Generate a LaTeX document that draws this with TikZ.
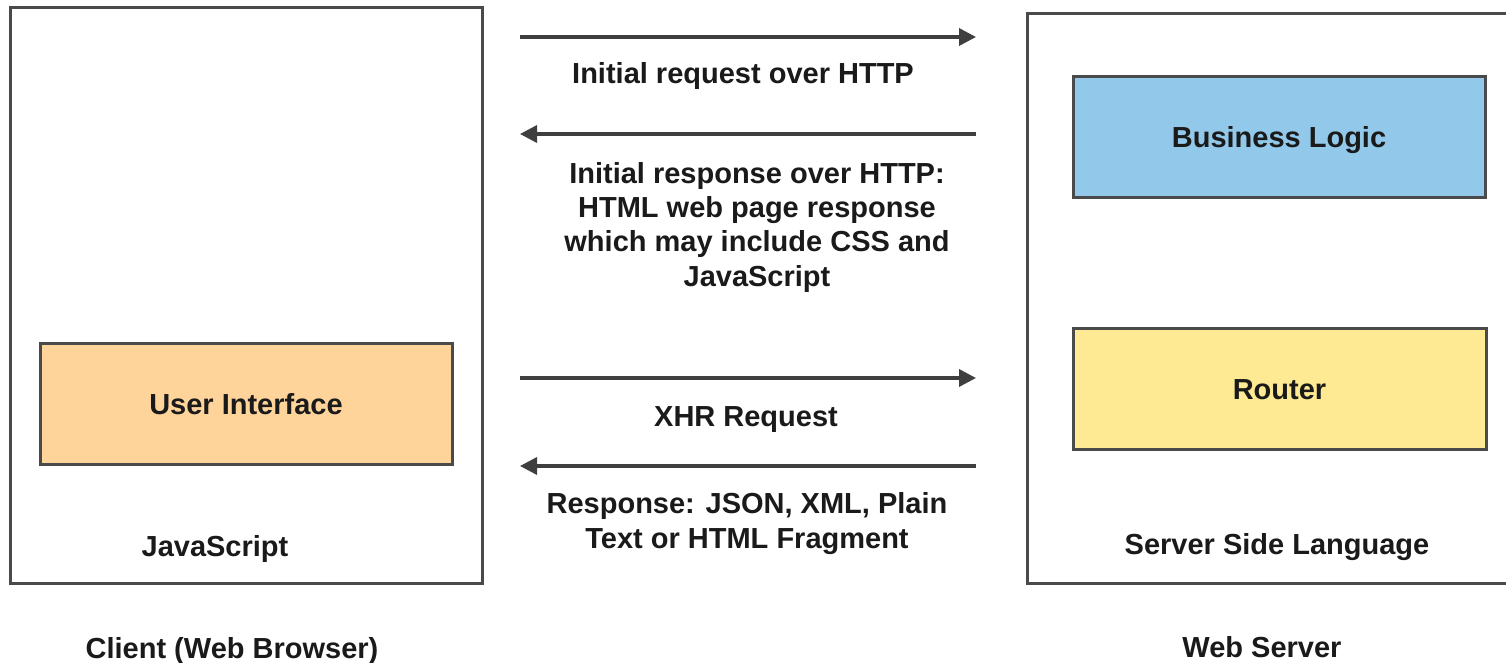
\documentclass[tikz,border=0pt]{standalone}
\usepackage{fontspec}
\setmainfont{Liberation Sans}
\usetikzlibrary{arrows.meta}
\definecolor{bordergray}{HTML}{4A4A4A}
\definecolor{arrowgray}{HTML}{3F3F3F}
\definecolor{txt}{HTML}{1A1A1A}
\definecolor{blfill}{HTML}{92C9EA}
\definecolor{uifill}{HTML}{FED49B}
\definecolor{rtfill}{HTML}{FEEA93}
\begin{document}
\begin{tikzpicture}[x=1pt,y=-1pt,
  every node/.style={font=\fontsize{29}{34.3}\selectfont\bfseries, text=txt},
  outerbox/.style={draw=bordergray, line width=3pt, fill=white, inner sep=0pt},
  innerbox/.style={draw=bordergray, line width=3pt, inner sep=0pt, text height=21pt, text depth=0pt},
  lbl/.style={anchor=base, align=center, inner sep=0pt},
  flow/.style={draw=arrowgray, line width=3.5pt, -{Triangle[length=17pt,width=17pt]}}
]
\clip (0,0) rectangle (1506,663);
\fill[white] (0,0) rectangle (1506,663);

% outer boxes
\node[outerbox, minimum width=472pt, minimum height=575pt] (client) at (246,295.5) {};
\node[outerbox, minimum width=505pt, minimum height=569pt] (server) at (1279.5,298.5) {};

% inner boxes
\node[innerbox, fill=uifill, minimum width=412pt, minimum height=121pt] (ui) at (246,404) {User Interface};
\node[innerbox, fill=blfill, minimum width=412pt, minimum height=121pt] (bl) at (1279,137) {Business Logic};
\node[innerbox, fill=rtfill, minimum width=413pt, minimum height=121pt] (router) at (1279.5,388.5) {Router};

% labels inside outer boxes
\node[lbl] (js) at (215,556) {JavaScript};
\node[lbl] (ssl) at (1277,554) {Server Side Language};

% captions
\node[lbl] (clientcap) at (232,658) {Client (Web Browser)};
\node[lbl] (servercap) at (1262,657) {Web Server};

% arrow endpoints
\coordinate (a1l) at (520,37);  \coordinate (a1r) at (976,37);
\coordinate (a2l) at (520,134); \coordinate (a2r) at (976,134);
\coordinate (a3l) at (520,378); \coordinate (a3r) at (976,378);
\coordinate (a4l) at (520,466); \coordinate (a4r) at (976,466);

\draw[flow] (a1l) -- (a1r);
\draw[flow] (a2r) -- (a2l);
\draw[flow] (a3l) -- (a3r);
\draw[flow] (a4r) -- (a4l);

% arrow labels (base anchor = baseline of last line)
\node[lbl] (l1) at (743,84) {Initial request over HTTP};
\node[lbl] (l2) at (757,286) {Initial response over HTTP:\\HTML web page response\\which may include CSS and\\JavaScript};
\node[lbl] (l3) at (746,426) {XHR Request};
\node[lbl] (l4) at (747,548) {Response: JSON, XML, Plain\\Text or HTML Fragment};
\end{tikzpicture}
\end{document}
